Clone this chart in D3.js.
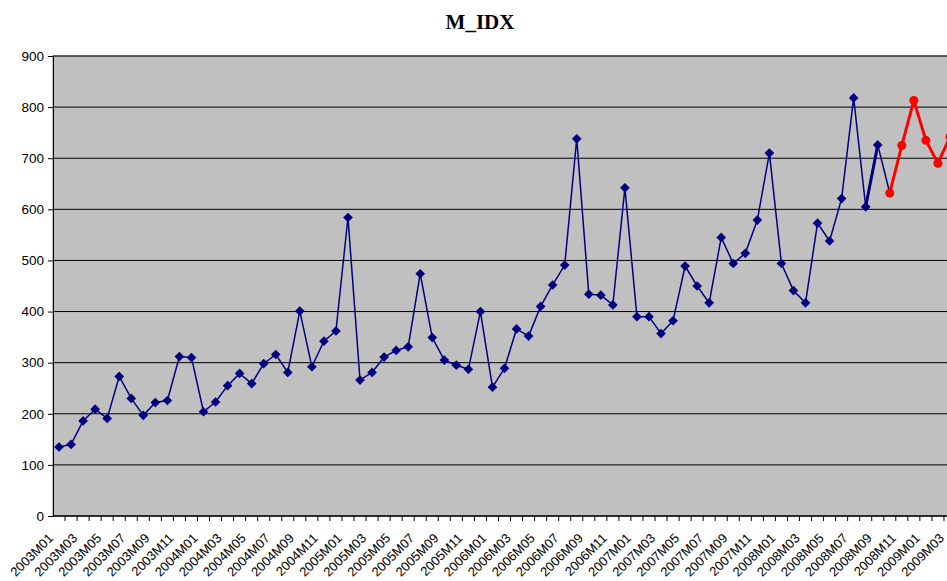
<!DOCTYPE html>
<html>
<head>
<meta charset="utf-8">
<script src="https://cdn.jsdelivr.net/npm/d3@7/dist/d3.min.js"></script>
<style>
  body { margin: 0; background: #fff; }
  svg { display: block; font-family: "Liberation Sans", Arial, sans-serif; }
</style>
</head>
<body>
<div id="chart"></div>
<script>
// month labels 2003M01 .. 2009M03
const years = ["2003", "2004", "2005", "2006", "2007", "2008", "2009"];
const months = ["01","02","03","04","05","06","07","08","09","10","11","12"];
const categories = [];
years.forEach(yr => months.forEach(mo => categories.push(yr + "M" + mo)));
categories.splice(75); // stops at 2009M03

const actual = [135, 140, 186, 209, 191, 273, 230, 197, 222, 226, 312, 310,
                204, 223, 255, 279, 259, 298, 316, 281, 401, 292, 342, 362,
                584, 266, 281, 311, 324, 331, 474, 349, 305, 295, 287, 400,
                252, 289, 366, 352, 410, 452, 491, 738, 434, 432, 413, 642,
                390, 390, 357, 382, 489, 450, 417, 545, 494, 514, 579, 710,
                494, 441, 417, 573, 538, 621, 818, 605, 726];

// thick overlap segment (2008M08 .. 2008M09)
const overlapCats = ["2008M08", "2008M09"];
const overlap = [605, 726];

// forecast (2008M10 .. 2009M03)
const forecastCats = ["2008M10", "2008M11", "2008M12", "2009M01", "2009M02", "2009M03"];
const forecast = [632, 725, 813, 735, 690, 742];

const yTicks = [0, 100, 200, 300, 400, 500, 600, 700, 800, 900];

const W = 947, H = 581;
const m = { top: 56, left: 53, bottom: 65 };
const plotBottom = H - m.bottom;
const step = 12.04;

const svg = d3.select("#chart").append("svg").attr("width", W).attr("height", H);

const x = d3.scaleBand().domain(categories)
  .range([m.left, m.left + step * categories.length]).padding(0);
const y = d3.scaleLinear().domain([0, 900]).range([plotBottom, m.top]);
const cx = c => x(c) + x.bandwidth() / 2;

// grey plot area
svg.append("rect")
  .attr("x", m.left).attr("y", m.top)
  .attr("width", x.range()[1] - m.left).attr("height", plotBottom - m.top)
  .attr("fill", "#c0c0c0").attr("stroke", "#808080");

// gridlines
svg.append("g").selectAll("line").data(yTicks.filter(d => d > 0)).join("line")
  .attr("x1", m.left).attr("x2", x.range()[1])
  .attr("y1", d => y(d)).attr("y2", d => y(d))
  .attr("stroke", "#000").attr("stroke-width", 1);

// y axis
const gy = svg.append("g").attr("transform", `translate(${m.left},0)`)
  .call(d3.axisLeft(y).tickValues(yTicks).tickSize(5).tickPadding(4));
gy.select(".domain").attr("stroke", "#000");
gy.selectAll("text").attr("font-size", 13.5).attr("fill", "#000")
  .attr("font-family", "Liberation Sans, Arial, sans-serif");

// x axis: ticks between categories
const gx = svg.append("g").attr("transform", `translate(0,${plotBottom})`);
gx.append("line").attr("x1", m.left).attr("x2", x.range()[1])
  .attr("stroke", "#000").attr("stroke-width", 1.5);
gx.selectAll("line.tk").data(categories).join("line").attr("class", "tk")
  .attr("x1", d => x(d) + x.bandwidth()).attr("x2", d => x(d) + x.bandwidth())
  .attr("y1", 0).attr("y2", 5).attr("stroke", "#000");
gx.selectAll("text").data(categories.filter((d, i) => i % 2 === 0)).join("text")
  .attr("transform", d => `translate(${cx(d) - 5},${23}) rotate(-45)`)
  .attr("text-anchor", "end")
  .attr("font-size", 13)
  .text(d => d);

const line = d3.line().x(d => cx(d.c)).y(d => y(d.v));

// actual line runs into first forecast point
const actualPts = actual.map((v, i) => ({ c: categories[i], v }));
svg.append("path")
  .datum(actualPts.concat([{ c: forecastCats[0], v: forecast[0] }]))
  .attr("d", line).attr("fill", "none")
  .attr("stroke", "#000080").attr("stroke-width", 1.5);

svg.append("path")
  .datum(overlap.map((v, i) => ({ c: overlapCats[i], v })))
  .attr("d", line).attr("fill", "none")
  .attr("stroke", "#000080").attr("stroke-width", 3);

svg.append("g").selectAll("path").data(actualPts).join("path")
  .attr("transform", d => `translate(${cx(d.c)},${y(d.v)})`)
  .attr("d", d3.symbol(d3.symbolDiamond2, 60))
  .attr("fill", "#000080");

// forecast
const fcPts = forecast.map((v, i) => ({ c: forecastCats[i], v }));
svg.append("path").datum(fcPts).attr("d", line).attr("fill", "none")
  .attr("stroke", "#ff0000").attr("stroke-width", 3);
svg.append("g").selectAll("circle").data(fcPts).join("circle")
  .attr("cx", d => cx(d.c)).attr("cy", d => y(d.v)).attr("r", 4.5)
  .attr("fill", "#ff0000");

// title
svg.append("text").attr("x", 480).attr("y", 29).attr("text-anchor", "middle")
  .attr("font-family", "Liberation Serif, Times New Roman, serif")
  .attr("font-weight", "bold").attr("font-size", 21).text("M_IDX");
</script>
</body>
</html>
